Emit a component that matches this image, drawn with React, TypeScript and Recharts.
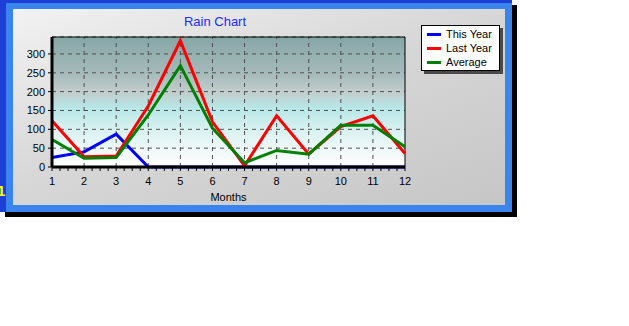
import React from 'react';
import { LineChart, Line, XAxis, YAxis, CartesianGrid, ReferenceLine } from 'recharts';

const months = [1, 2, 3, 4, 5, 6, 7, 8, 9, 10, 11, 12];
const thisYear = [25, 40, 87, 0, 0, 0, 0, 0, 0, 0, 0, 0];
const lastYear = [123, 27, 29, 162, 335, 120, 3, 136, 34, 107, 136, 36];
const average = [73, 23, 25, 138, 269, 103, 11, 44, 34, 111, 111, 54];
const yTicks = [0, 50, 100, 150, 200, 250, 300];
const yMax = 345;

const series = [
  { key: 'thisYear', name: 'This Year', color: '#0000ff' },
  { key: 'lastYear', name: 'Last Year', color: '#ff0000' },
  { key: 'average', name: 'Average', color: '#008000' },
];

const data = months.map((m, i) => ({
  month: m,
  thisYear: thisYear[i],
  lastYear: lastYear[i],
  average: average[i],
}));

// quarter ticks along the x axis, labels only on whole months
const xTicks = months.flatMap((m) => [m, m + 0.25, m + 0.5, m + 0.75]).filter((t) => t <= 12);

const font = '"Liberation Sans", Arial, sans-serif';

export default function App() {
  return (
    <div
      style={{
        position: 'absolute', left: 0, top: 0, width: 629, height: 326,
        background: '#fff', fontFamily: font, overflow: 'hidden',
      }}
    >
      <div style={{ position: 'absolute', left: 5, top: 5, width: 512, height: 212, background: '#000' }} />
      <div style={{ position: 'absolute', left: 0, top: 0, width: 512, height: 212, background: '#1d3fd6' }} />
      <div style={{ position: 'absolute', left: 6, top: 3, width: 506, height: 209, background: '#3a84ee' }} />
      <div
        style={{
          position: 'absolute', left: 13, top: 9, width: 492, height: 196,
          background: 'linear-gradient(160deg, #f2f2f2 0%, #d8d8d8 45%, #c6c6c6 100%)',
        }}
      />
      <div
        style={{
          position: 'absolute', left: -3, top: 183, fontSize: 15, lineHeight: '15px',
          fontWeight: 'bold', color: '#ffff00',
        }}
      >
        1
      </div>
      <div
        style={{
          position: 'absolute', left: 0, top: 14, width: 430, textAlign: 'center',
          fontSize: 13, lineHeight: '16px', color: '#1a2cff',
        }}
      >
        Rain Chart
      </div>

      <div style={{ position: 'absolute', left: 0, top: 0 }}>
        <LineChart width={512} height={217} data={data} margin={{ top: 37, right: 107, bottom: 16, left: 0 }}>
          <defs>
            <linearGradient id="plotBg" x1="0" y1="0" x2="0" y2="1">
              <stop offset="0%" stopColor="#86a6a6" />
              <stop offset="30%" stopColor="#a9bcbc" />
              <stop offset="42%" stopColor="#c2cccc" />
              <stop offset="55%" stopColor="#b8e8e8" />
              <stop offset="70%" stopColor="#d6f0f0" />
              <stop offset="85%" stopColor="#eef8f8" />
              <stop offset="100%" stopColor="#ffffff" />
            </linearGradient>
          </defs>
          <CartesianGrid vertical={false} fill="url(#plotBg)" stroke="#505050" strokeDasharray="4 4" />
          {months.slice(1, 11).map((m) => (
            <ReferenceLine key={m} x={m} stroke="#505050" strokeDasharray="4 4" />
          ))}
          <ReferenceLine y={yMax} stroke="#000" />
          <ReferenceLine x={12} stroke="#000" />
          <XAxis
            dataKey="month"
            type="number"
            domain={[1, 12]}
            ticks={xTicks}
            interval={0}
            height={34}
            tickSize={4}
            tickMargin={6}
            tickFormatter={(v: number) => (Number.isInteger(v) ? String(v) : '')}
            axisLine={{ stroke: '#000', strokeWidth: 3 }}
            tickLine={{ stroke: '#000' }}
            tick={{ fill: '#000', fontSize: 11, fontFamily: font }}
            label={{ value: 'Months', position: 'insideBottom', offset: 0, fill: '#000', fontSize: 11, fontFamily: font }}
          />
          <YAxis
            type="number"
            domain={[0, yMax]}
            ticks={yTicks}
            interval={0}
            width={52}
            tickSize={4}
            tickMargin={3}
            axisLine={{ stroke: '#000', strokeWidth: 3 }}
            tickLine={{ stroke: '#000' }}
            tick={{ fill: '#000', fontSize: 11, fontFamily: font }}
          />
          {series.map((s) => (
            <Line
              key={s.key}
              type="linear"
              dataKey={s.key}
              name={s.name}
              stroke={s.color}
              strokeWidth={3}
              dot={false}
              activeDot={false}
              isAnimationActive={false}
            />
          ))}
        </LineChart>
      </div>

      <div
        style={{
          position: 'absolute', left: 421, top: 25, width: 79, height: 46, boxSizing: 'border-box',
          background: '#fff', border: '1px solid #000', boxShadow: '3px 3px 0 #4a4a4a', paddingTop: 1,
        }}
      >
        {series.map((s) => (
          <div key={s.key} style={{ display: 'flex', alignItems: 'center', height: 14 }}>
            <div style={{ width: 14, height: 3, marginLeft: 5, marginRight: 5, background: s.color }} />
            <span style={{ fontSize: 11, lineHeight: '14px', color: '#000' }}>{s.name}</span>
          </div>
        ))}
      </div>
    </div>
  );
}
